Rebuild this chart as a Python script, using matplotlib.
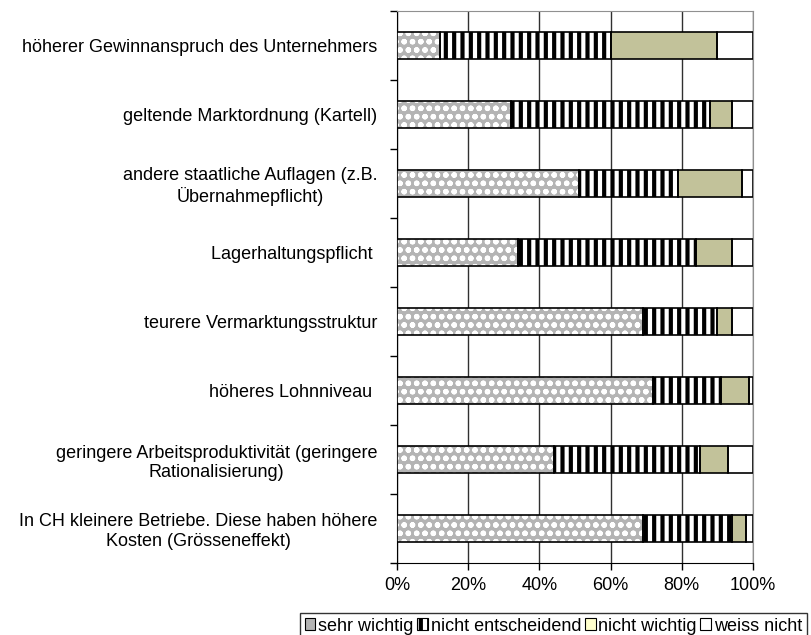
import numpy as np
import matplotlib
matplotlib.use("Agg")
import matplotlib.pyplot as plt
from matplotlib.patches import Patch

plt.rcParams["font.family"] = ["Liberation Sans", "DejaVu Sans"]
plt.rcParams["hatch.linewidth"] = 3.0

categories = [
    "höherer Gewinnanspruch des Unternehmers",
    "geltende Marktordnung (Kartell)",
    "andere staatliche Auflagen (z.B.\nÜbernahmepflicht)",
    "Lagerhaltungspflicht ",
    "teurere Vermarktungsstruktur",
    "höheres Lohnniveau ",
    "geringere Arbeitsproduktivität (geringere\nRationalisierung)",
    "In CH kleinere Betriebe. Diese haben höhere\nKosten (Grösseneffekt)",
]
sehr_wichtig = [12, 32, 51, 34, 69, 72, 44, 69]
nicht_entscheidend = [48, 56, 28, 50, 21, 19, 41, 25]
nicht_wichtig = [30, 6, 18, 10, 4, 8, 8, 4]
weiss_nicht = [10, 6, 3, 6, 6, 1, 7, 2]
series_names = ["sehr wichtig", "nicht entscheidend", "nicht wichtig", "weiss nicht"]

# fill colour, hatch colour, hatch pattern, hatch width
styles = [
    ("#b4b4b4", "white", "oo", 1.6),
    ("white", "black", "||", 3.0),
    ("#c2c29a", "#b0b088", "", 1.0),
    ("white", "white", "", 1.0),
]

fig = plt.figure(figsize=(8.12, 6.35), dpi=100)
ax = fig.add_axes([397 / 812, 1 - 563 / 635, (753 - 397) / 812, (563 - 11) / 635])

y = np.arange(len(categories))
left = np.zeros(len(categories))
for vals, (face, hc, hatch, hw) in zip([sehr_wichtig, nicht_entscheidend, nicht_wichtig, weiss_nicht], styles):
    vals = np.array(vals, dtype=float)
    with plt.rc_context({"hatch.linewidth": hw}):
        bars = ax.barh(y, vals, left=left, height=0.4, color=face, edgecolor=hc,
                       hatch=hatch, linewidth=0, zorder=3)
    for b in bars:
        if hasattr(b, "set_hatch_linewidth"):
            b.set_hatch_linewidth(hw)
    ax.barh(y, vals, left=left, height=0.4, fill=False, edgecolor="black",
            linewidth=1.2, zorder=4)
    left += vals

ax.set_xlim(0, 100)
ax.set_ylim(len(categories) - 0.5, -0.5)
ax.set_xticks([0, 20, 40, 60, 80, 100])
ax.set_xticklabels(["0%", "20%", "40%", "60%", "80%", "100%"], fontsize=13)
ax.set_yticks(y)
ax.set_yticklabels(categories, fontsize=13, ha="right", multialignment="center")
ax.set_yticks(np.arange(-0.5, len(categories)), minor=True)
ax.tick_params(axis="y", which="major", length=0, pad=14)
ax.tick_params(axis="y", which="minor", length=5, width=1, direction="out")
ax.tick_params(axis="x", length=5, width=1, direction="out", pad=5)
ax.grid(axis="x", color="#303030", linewidth=1, zorder=0)
ax.set_axisbelow(True)
for side in ["left", "bottom"]:
    ax.spines[side].set_color("black")
ax.spines["top"].set_color("#909090")
ax.spines["right"].set_color("#909090")

handles = [
    Patch(facecolor="#b4b4b4", edgecolor="black", linewidth=0.8),
    Patch(facecolor="white", edgecolor="black", hatch="||", linewidth=0.8),
    Patch(facecolor="#ffffcc", edgecolor="black", linewidth=0.8),
    Patch(facecolor="white", edgecolor="black", linewidth=0.8),
]
leg = fig.legend(handles, series_names, loc="upper left",
                 bbox_to_anchor=(300 / 812, 1 - 613 / 635), ncol=4,
                 fontsize=13, frameon=True, fancybox=False,
                 handlelength=0.6, handleheight=0.6, handletextpad=0.15,
                 columnspacing=0.2, borderpad=0.25, borderaxespad=0)
leg.get_frame().set_edgecolor("black")
leg.get_frame().set_linewidth(1)

fig.savefig("out.png", dpi=100)
